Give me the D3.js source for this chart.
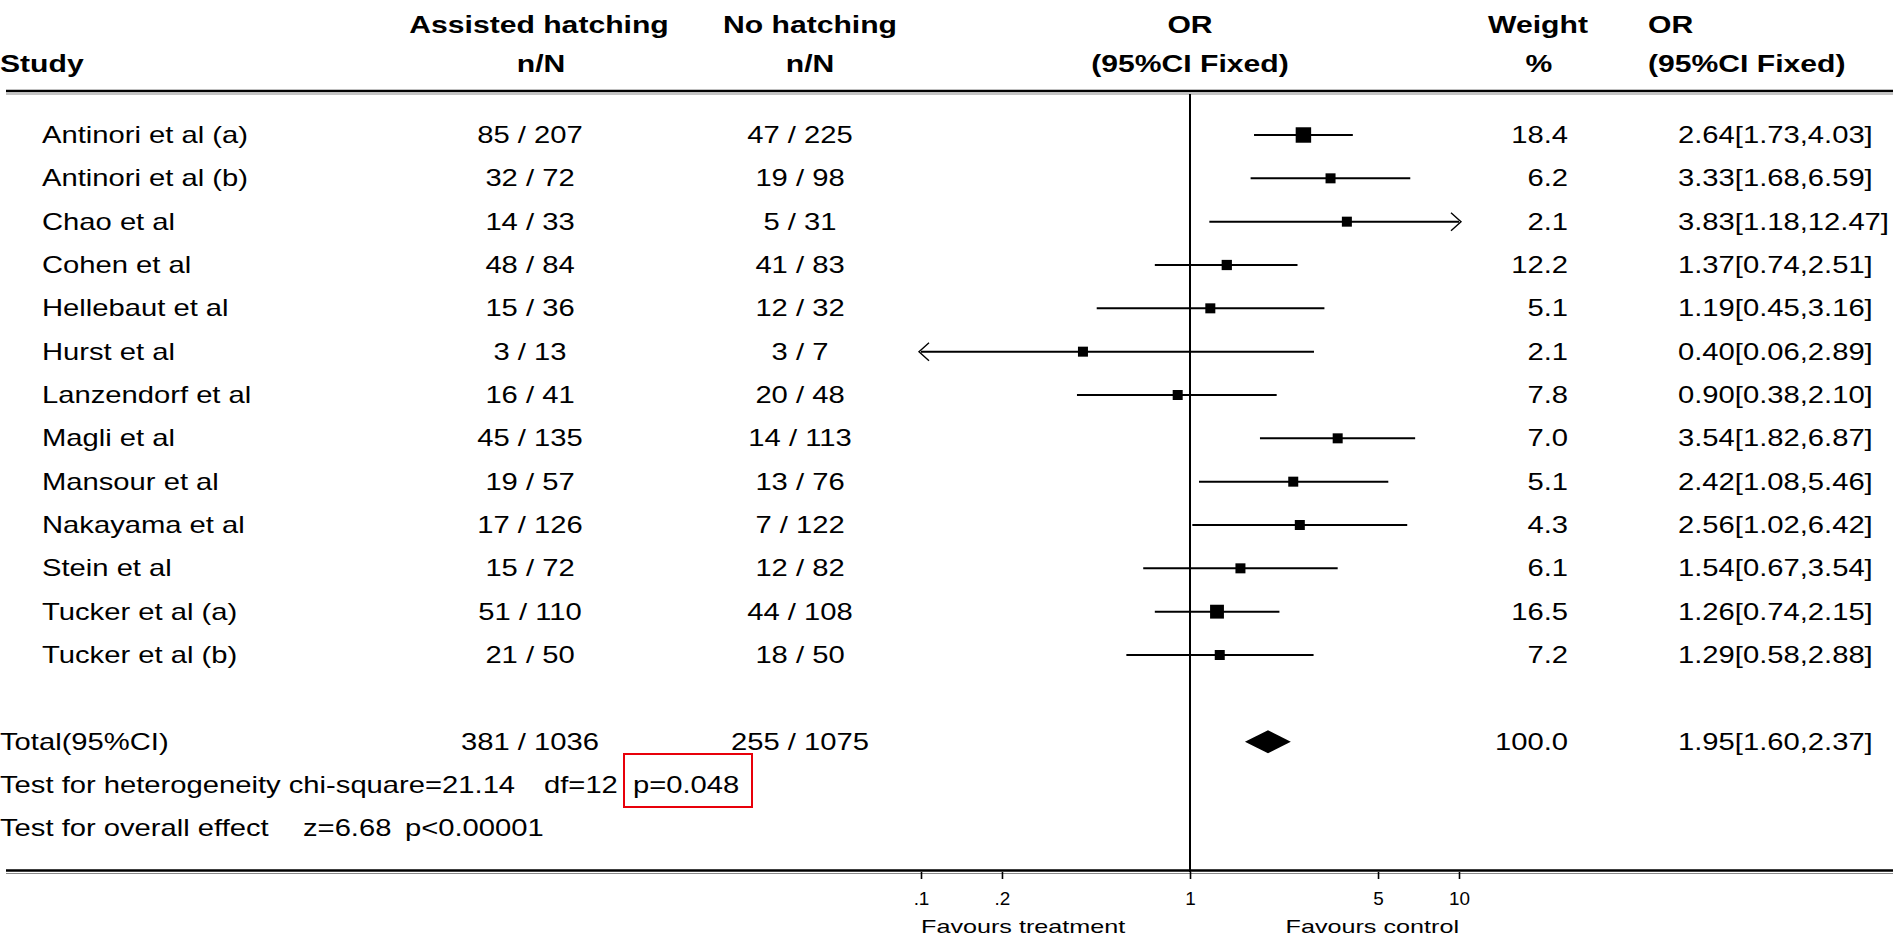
<!DOCTYPE html>
<html>
<head>
<meta charset="utf-8">
<script src="https://cdn.jsdelivr.net/npm/d3@7"></script>
<style>
  html, body { margin: 0; padding: 0; background: #fff; }
  svg { display: block; }
  text { font-family: "Liberation Sans", Arial, sans-serif; fill: #000; }
</style>
</head>
<body>
<svg id="chart" width="1893" height="940"></svg>
<script>
// ---- data -------------------------------------------------------------
const studies = [
  "Antinori et al (a)", "Antinori et al (b)", "Chao et al", "Cohen et al",
  "Hellebaut et al", "Hurst et al", "Lanzendorf et al", "Magli et al",
  "Mansour et al", "Nakayama et al", "Stein et al", "Tucker et al (a)", "Tucker et al (b)"
];
const hatchEvents = [85, 32, 14, 48, 15, 3, 16, 45, 19, 17, 15, 51, 21];
const hatchTotal  = [207, 72, 33, 84, 36, 13, 41, 135, 57, 126, 72, 110, 50];
const ctrlEvents  = [47, 19, 5, 41, 12, 3, 20, 14, 13, 7, 12, 44, 18];
const ctrlTotal   = [225, 98, 31, 83, 32, 7, 48, 113, 76, 122, 82, 108, 50];
const weights     = [18.4, 6.2, 2.1, 12.2, 5.1, 2.1, 7.8, 7.0, 5.1, 4.3, 6.1, 16.5, 7.2];
const oddsRatio   = [2.64, 3.33, 3.83, 1.37, 1.19, 0.40, 0.90, 3.54, 2.42, 2.56, 1.54, 1.26, 1.29];
const ciLow       = [1.73, 1.68, 1.18, 0.74, 0.45, 0.06, 0.38, 1.82, 1.08, 1.02, 0.67, 0.74, 0.58];
const ciHigh      = [4.03, 6.59, 12.47, 2.51, 3.16, 2.89, 2.10, 6.87, 5.46, 6.42, 3.54, 2.15, 2.88];

const totalHatch  = [381, 1036];
const totalCtrl   = [255, 1075];
const totalWeight = 100.0;
const totalOR     = [1.95, 1.60, 2.37];   // estimate, lower, upper

const heterogeneity = { chi: "21.14", df: "12", p: "0.048" };
const overallEffect = { z: "6.68", p: "<0.00001" };

const tickValues = [0.1, 0.2, 1, 5, 10];
const tickLabels = [".1", ".2", "1", "5", "10"];

// ---- layout -----------------------------------------------------------
const svg = d3.select("#chart");
const W = 1893;

const x = d3.scaleLog().domain([0.1, 10]).range([921, 1459]);
const y = d3.scalePoint().domain(studies).range([135, 655]);
const rowStep = y.step();
const footY = 655 + rowStep * 2;        // total row centre
const baseOff = 8;                      // text baseline below row centre
const axisY = 872;
const topRuleY = 91;

const colStudy = 42, colHatch = 530, colCtrl = 800;
const colWeightR = 1568, colORL = 1678;

// square side grows with study weight, with a floor for small studies
const side = d3.scaleLinear().domain([0, 20]).range([0, 16.8]);
const sq = w => Math.max(10, side(w));

// text with the wide bitmap-like glyph proportions
function put(g, px, py, str, opt = {}) {
  const sx = opt.sx || 1.27;
  return g.append("text")
    .attr("transform", `translate(${px},${py}) scale(${sx},1)`)
    .attr("text-anchor", opt.anchor || "start")
    .style("font-size", (opt.size || 23) + "px")
    .style("font-weight", opt.bold ? "bold" : "normal")
    .text(str);
}

// ---- header -----------------------------------------------------------
const head = svg.append("g");
const hb = { bold: true, sx: 1.31 };
put(head, 0, 72, "Study", hb);
put(head, 539, 33, "Assisted hatching", { ...hb, anchor: "middle" });
put(head, 541, 72, "n/N", { ...hb, anchor: "middle" });
put(head, 810, 33, "No hatching", { ...hb, anchor: "middle" });
put(head, 810, 72, "n/N", { ...hb, anchor: "middle" });
put(head, x(1), 33, "OR", { ...hb, anchor: "middle" });
put(head, x(1), 72, "(95%CI Fixed)", { ...hb, anchor: "middle" });
put(head, 1538, 33, "Weight", { ...hb, anchor: "middle" });
put(head, 1539, 72, "%", { ...hb, anchor: "middle" });
put(head, 1648, 33, "OR", hb);
put(head, 1648, 72, "(95%CI Fixed)", hb);

// double rules above the table body and at the axis
function doubleRule(yy) {
  svg.append("line").attr("x1", 6).attr("x2", W).attr("y1", yy).attr("y2", yy)
    .attr("stroke", "#000").attr("stroke-width", 2.4);
  svg.append("line").attr("x1", 6).attr("x2", W).attr("y1", yy + 3).attr("y2", yy + 3)
    .attr("stroke", "#8a8a8a").attr("stroke-width", 1.2);
}
doubleRule(topRuleY);
doubleRule(axisY - 1.5);

// line of no effect
svg.append("line")
  .attr("x1", x(1)).attr("x2", x(1))
  .attr("y1", topRuleY + 3).attr("y2", axisY)
  .attr("stroke", "#000").attr("stroke-width", 2);

// ---- study rows -------------------------------------------------------
const rows = svg.append("g");
studies.forEach((s, i) => {
  const cy = y(s), by = cy + baseOff;
  put(rows, colStudy, by, s);
  put(rows, colHatch, by, `${hatchEvents[i]} / ${hatchTotal[i]}`, { anchor: "middle" });
  put(rows, colCtrl, by, `${ctrlEvents[i]} / ${ctrlTotal[i]}`, { anchor: "middle" });
  put(rows, colWeightR, by, weights[i].toFixed(1), { anchor: "end" });
  put(rows, colORL, by,
    `${oddsRatio[i].toFixed(2)}[${ciLow[i].toFixed(2)},${ciHigh[i].toFixed(2)}]`);
});

// confidence intervals, clipped to the axis range with arrowheads
const [dMin, dMax] = x.domain();
const marks = svg.append("g");
studies.forEach((s, i) => {
  const cy = y(s);
  const lo = Math.max(ciLow[i], dMin), hi = Math.min(ciHigh[i], dMax);
  marks.append("line")
    .attr("x1", x(lo)).attr("x2", x(hi)).attr("y1", cy).attr("y2", cy)
    .attr("stroke", "#000").attr("stroke-width", 2);
  if (ciHigh[i] > dMax) {
    const tx = x(dMax) + 2;
    marks.append("path")
      .attr("d", `M${tx - 10},${cy - 9}L${tx},${cy}L${tx - 10},${cy + 9}`)
      .attr("fill", "none").attr("stroke", "#000").attr("stroke-width", 1.4);
  }
  if (ciLow[i] < dMin) {
    const tx = x(dMin) - 2;
    marks.append("path")
      .attr("d", `M${tx + 10},${cy - 9}L${tx},${cy}L${tx + 10},${cy + 9}`)
      .attr("fill", "none").attr("stroke", "#000").attr("stroke-width", 1.4);
  }
  const a = sq(weights[i]);
  marks.append("rect")
    .attr("x", x(oddsRatio[i]) - a / 2).attr("y", cy - a / 2)
    .attr("width", a).attr("height", a).attr("fill", "#000");
});

// ---- pooled result ----------------------------------------------------
const foot = svg.append("g");
put(foot, 0, footY + baseOff, "Total(95%CI)");
put(foot, colHatch, footY + baseOff, `${totalHatch[0]} / ${totalHatch[1]}`, { anchor: "middle" });
put(foot, colCtrl, footY + baseOff, `${totalCtrl[0]} / ${totalCtrl[1]}`, { anchor: "middle" });
put(foot, colWeightR, footY + baseOff, totalWeight.toFixed(1), { anchor: "end" });
put(foot, colORL, footY + baseOff,
  `${totalOR[0].toFixed(2)}[${totalOR[1].toFixed(2)},${totalOR[2].toFixed(2)}]`);

const dh = 11.5;
foot.append("path")
  .attr("d", `M${x(totalOR[1])},${footY}L${x(totalOR[0])},${footY - dh}` +
             `L${x(totalOR[2])},${footY}L${x(totalOR[0])},${footY + dh}Z`)
  .attr("fill", "#000");

// test statistics
const hy = footY + rowStep + baseOff, oy = footY + 2 * rowStep + baseOff;
put(foot, 0, hy, `Test for heterogeneity chi-square=${heterogeneity.chi}`);
put(foot, 544, hy, `df=${heterogeneity.df}`);
put(foot, 633, hy, `p=${heterogeneity.p}`);
foot.append("rect")
  .attr("x", 624).attr("y", hy - 39).attr("width", 128).attr("height", 53)
  .attr("fill", "none").attr("stroke", "#e8000a").attr("stroke-width", 2);
put(foot, 0, oy, "Test for overall effect");
put(foot, 303, oy, `z=${overallEffect.z}`);
put(foot, 405, oy, `p${overallEffect.p}`);

// ---- axis -------------------------------------------------------------
const axis = d3.axisBottom(x)
  .tickValues(tickValues)
  .tickFormat((d, i) => tickLabels[i])
  .tickSize(7);
const ag = svg.append("g").attr("transform", `translate(0,${axisY})`).call(axis);
ag.select(".domain").remove();
ag.selectAll(".tick line").attr("stroke", "#000").attr("stroke-width", 1.6);
ag.selectAll(".tick text")
  .attr("y", null).attr("dy", null)
  .attr("transform", "translate(0,33) scale(1.05,1)")
  .style("font-family", '"Liberation Sans", Arial, sans-serif')
  .style("font-size", "18px").attr("fill", "#000");

put(svg, x(0.1), 933, "Favours treatment", { size: 18, sx: 1.4 });
put(svg, x(10), 933, "Favours control", { size: 18, sx: 1.4, anchor: "end" });
</script>
</body>
</html>
